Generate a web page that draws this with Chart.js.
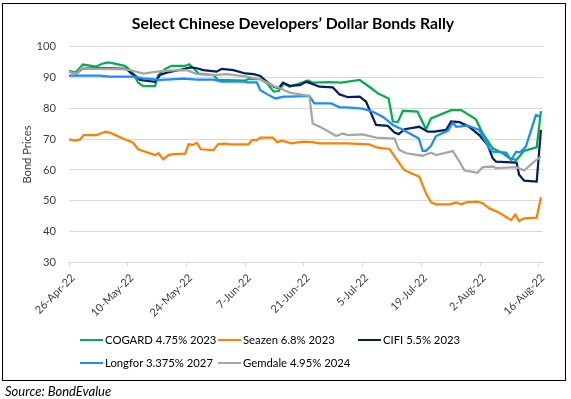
<!DOCTYPE html>
<html>
<head>
<meta charset="utf-8">
<script src="https://cdn.jsdelivr.net/npm/chart.js@4.4.1/dist/chart.umd.min.js"></script>
<style>
  html, body { margin: 0; padding: 0; background: #fff; width: 571px; height: 399px; overflow: hidden; font-family: Lato, sans-serif; }
  #frame { position: absolute; left: 2px; top: 3px; width: 564px; height: 378px; border: 1px solid #000; box-sizing: border-box; }
  #wrap { position: absolute; left: 0; top: 0; width: 571px; height: 330px; }
  #title { position: absolute; left: 93px; width: 400px; top: 13.1px; line-height: 20px; text-align: center; font-size: 15.8px; font-weight: bold; color: #000; white-space: nowrap; }
  #legend { position: absolute; left: 0; top: 0; width: 571px; height: 399px; pointer-events: none; }
  .item { position: absolute; height: 14px; font-size: 11.3px; color: #000; white-space: nowrap; line-height: 14px; }
  .item .sw { position: absolute; left: 0; top: 6px; width: 23px; height: 2.5px; }
  .item .tx { position: absolute; left: 25px; top: 0; }
  #source { position: absolute; left: 5px; top: 382.7px; line-height: 16px; font-size: 13px; font-style: italic; color: #000; }
</style>
</head>
<body>
<div id="frame"></div>
<div id="wrap"><canvas id="c" width="571" height="330"></canvas></div>
<div id="title">Select Chinese Developers’ Dollar Bonds Rally</div>
<div id="legend"></div>
<div id="source">Source: BondEvalue</div>
<script>
// ---- data (days since 26-Apr-22) ----
const tickLabels = ['26-Apr-22','10-May-22','24-May-22','7-Jun-22','21-Jun-22','5-Jul-22','19-Jul-22','2-Aug-22','16-Aug-22'];
const tickDays = tickLabels.map((_, i) => i * 14);

const seriesNames = ['COGARD 4.75% 2023', 'Seazen 6.8% 2023', 'CIFI 5.5% 2023', 'Longfor 3.375% 2027', 'Gemdale 4.95% 2024'];
const seriesColors = ['#00B050', '#FF8000', '#002060', '#1A8CFF', '#A6A6A6'];

const cogardDays   = [0,1.6,3.3,6.5,7.7,9.3,10.9,13.3,14.1,15.3,16.5,17.7,20.5,21.3,22.9,24.5,27.7,28.7,29.7,30.9,34.4,35.6,42,42.8,45.6,47.2,48.8,50,51.2,52.6,55,57,58.1,62.1,64.9,69.3,71.6,73.6,76.2,77.2,78.4,79.6,83.1,85.1,86.3,91.1,93.5,97,98.6,101,103.4,105,106.6,107.3,108.5,111.5,112.5];
const cogardPrices = [92.2,91.6,94.2,93.5,94.4,94.9,94.5,93.8,93.0,91.3,88.3,87.2,87.2,90.8,92.8,93.8,93.8,94.3,93.0,91.3,90.8,89.2,89.0,89.5,89.5,88.1,85.4,85.6,88.1,87.0,88.1,89.0,88.3,88.5,88.3,89.2,87.0,84.9,83.2,75.7,75.6,79.2,78.9,73.2,76.7,79.4,79.4,76.4,71.9,67.0,65.4,63.8,63.2,64.3,66.2,67.3,79.1];

const seazenDays   = [0,1.4,2.6,3.5,6.5,7.7,8.8,9.7,13.7,15.3,16.5,20.5,21.3,22.5,23.7,24.9,27.7,28.5,29.5,30.5,31.4,34.4,35.6,37.2,38.4,42.8,43.6,44.8,45.6,48.6,49.6,50.8,53,55.8,58.1,59.7,66.1,71.6,73.6,76.4,77.9,79.9,81.6,83.5,85.1,86.3,87.5,90.7,92.3,93.5,94.7,97.4,98.6,100.2,102.6,105.4,106.4,107.3,108.5,111.5,112.5];
const seazenPrices = [69.9,69.5,69.9,71.3,71.3,71.9,72.4,72.1,69.7,68.8,66.7,64.8,65.4,63.4,64.8,65.1,65.3,68.3,68.1,68.8,66.7,66.4,68.4,68.5,68.3,68.3,69.7,69.7,70.5,70.5,69.0,69.5,68.6,69.2,69.0,68.6,68.6,68.3,67.2,66.8,63.8,60.0,58.9,57.8,52.4,49.5,48.8,48.8,49.4,48.8,49.5,49.7,49.2,47.5,46.1,43.7,45.5,43.4,44.3,44.5,51.1];

const cifiDays   = [0,1.8,3,4.1,9.7,13.7,14.9,16.1,16.9,20.5,21.7,23.3,26.9,28.9,30.5,32,35.2,36.4,39.2,42,44,45.6,47.2,48.8,50,51,52.6,55,56.6,57.7,59.7,62.9,64.5,66.5,69.3,70.8,73.2,76,77.6,78.6,80,83.5,85.5,87.1,89.9,91.1,93.1,95.4,97.8,99.8,101,101.8,106.7,107.3,108.5,111.5,112.5];
const cifiPrices = [91.9,91.3,92.8,93.0,93.0,92.8,91.3,90.3,89.2,88.6,90.8,91.6,92.6,93.3,93.0,92.4,91.9,92.8,92.4,91.3,91.1,90.5,88.6,87.0,86.5,88.3,87.3,87.5,88.6,88.1,87.0,86.8,84.5,83.6,83.8,82.2,74.6,74.3,72.1,71.6,73.2,74.0,72.4,72.4,73.0,75.7,75.5,74.0,71.3,68.1,63.8,62.7,62.4,58.4,56.5,56.2,73.0];

const longforDays   = [0,7.3,9.7,15.3,17.7,21.7,23.3,27.3,30.5,34.4,36.4,41.6,42.4,44.8,45.6,47.2,49.2,51.2,52.6,57.3,58.5,62.5,64.5,66.1,70,72.4,74.8,77.2,79.6,83.4,84.3,85.1,86.3,87.5,90.3,91.5,92.3,95,97.8,100.2,101,104.2,105.4,106.6,107.5,108.9,111.3,112.5];
const longforPrices = [90.6,90.6,90.3,90.3,89.7,89.2,89.3,89.6,89.3,89.3,88.7,88.7,88.4,88.4,85.9,84.6,83.2,83.8,83.8,84.0,81.6,81.6,80.3,80.3,79.9,78.9,77.3,74.6,73.0,70.2,66.2,66.2,67.8,71.0,72.7,75.3,74.0,74.4,73.0,67.0,65.9,65.6,63.2,65.9,65.7,67.5,77.8,77.3];

const gemdaleDays   = [0,1.8,3,7.3,13.7,15.3,17.7,20.9,23.3,28.1,30.5,34.4,37.6,42.4,45.6,48.8,50.2,52.6,57.3,58.1,60.5,63.7,65.3,66.5,70,73.2,77.6,78.7,80.4,84.3,86.3,87.5,91.5,93.1,94.3,97.4,98.6,101,101.8,106.6,108.5,110.9,112.5];
const gemdalePrices = [91.9,91.3,93.0,92.8,92.6,92.2,91.3,91.9,92.2,92.4,91.1,90.8,91.1,90.3,89.4,87.2,86.6,85.1,84.0,75.1,73.5,71.0,71.8,71.3,71.5,70.5,70.2,66.5,65.4,64.6,65.6,64.8,66.1,62.7,59.8,59.1,60.9,61.1,60.6,60.9,59.8,62.7,64.3];

const seriesDays   = [cogardDays, seazenDays, cifiDays, longforDays, gemdaleDays];
const seriesPrices = [cogardPrices, seazenPrices, cifiPrices, longforPrices, gemdalePrices];

// ---- chart ----
const FONT = 'Lato, sans-serif';
const datasets = seriesNames.map((name, i) => ({
  label: name,
  data: seriesDays[i].map((d, j) => ({ x: d, y: seriesPrices[i][j] })),
  borderColor: seriesColors[i],
  backgroundColor: seriesColors[i],
  borderWidth: 2.25,
  pointRadius: 0,
  tension: 0,
  fill: false,
  order: seriesNames.length - i   // Excel order: later series drawn on top
}));

new Chart(document.getElementById('c'), {
  type: 'line',
  data: { datasets },
  options: {
    responsive: false,
    animation: false,
    layout: { padding: { left: 0, right: 28, top: 46.7, bottom: 0 } },
    plugins: {
      legend: { display: false },
      tooltip: { enabled: false },
      title: { display: false }
    },
    scales: {
      x: {
        type: 'linear',
        min: 0,
        max: 113,
        afterFit: (s) => { s.height = 67.7; },
        afterBuildTicks: (s) => { s.ticks = tickDays.map(v => ({ value: v })); },
        grid: { display: true, drawOnChartArea: false, drawTicks: true, tickLength: 4, color: '#D9D9D9' },
        border: { display: true, color: '#D9D9D9', width: 1 },
        ticks: {
          autoSkip: false,
          maxRotation: 45,
          minRotation: 45,
          padding: 5,
          labelOffset: 4,
          color: '#404040',
          font: { family: FONT, size: 11 },
          callback: (v) => tickLabels[tickDays.indexOf(v)]
        }
      },
      y: {
        min: 30,
        max: 100,
        afterFit: (s) => { s.width = 69; },
        grid: { color: '#D9D9D9', drawTicks: false, lineWidth: 1 },
        border: { display: false },
        ticks: { stepSize: 10, padding: 13, color: '#404040', font: { family: FONT, size: 11.2 } },
        title: {
          display: true,
          text: 'Bond Prices',
          color: '#404040',
          font: { family: FONT, size: 11.2 },
          padding: { top: 20.3, bottom: 0 }
        }
      }
    }
  }
});

// ---- HTML legend (Excel-style grid) ----
const legendSlots = [[80, 332.7], [218, 332.7], [358, 332.7], [80, 355.7], [218, 355.7]];
const legendEl = document.getElementById('legend');
seriesNames.forEach((name, i) => {
  const it = document.createElement('div');
  it.className = 'item';
  it.style.left = legendSlots[i][0] + 'px';
  it.style.top = legendSlots[i][1] + 'px';
  it.innerHTML = '<span class="sw" style="background:' + seriesColors[i] + '"></span><span class="tx"></span>';
  it.querySelector('.tx').textContent = name;
  legendEl.appendChild(it);
});
</script>
</body>
</html>
